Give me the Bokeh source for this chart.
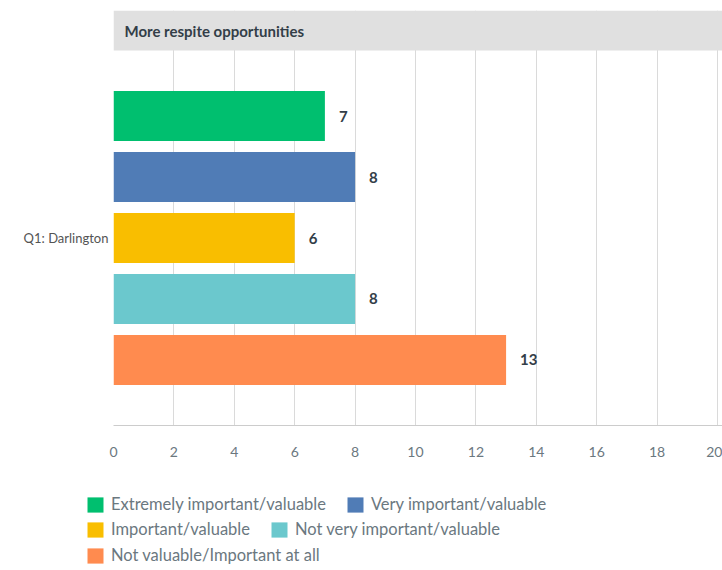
from bokeh.plotting import figure
from bokeh.models import (Range1d, FixedTicker, Label, LabelSet,
                          ColumnDataSource, Legend, LegendItem)
from bokeh.layouts import column
from bokeh.core.properties import value
from bokeh.embed import file_html
from bokeh.resources import INLINE

# ---- data ----
title_text = "More respite opportunities"
question = "Q1: Darlington"
categories = ["Extremely important/valuable", "Very important/valuable",
              "Important/valuable", "Not very important/valuable",
              "Not valuable/Important at all"]
values = [7, 8, 6, 8, 13]
colors = ["#00bf6f", "#507cb6", "#f9be00", "#6bc8cd", "#ff8b4f"]
x_ticks = [0, 2, 4, 6, 8, 10, 12, 14, 16, 18, 20]

FONT = "Lato"

# layout positions (bar slots, top to bottom)
ypos = [5 - i for i in range(len(values))]
XMAX = 20.166
YMIN, YMAX = -0.074, 6.730
HEADER_BOTTOM = 6.074

p = figure(width=722, height=470, output_backend="svg", toolbar_location=None,
           x_range=Range1d(0, XMAX), y_range=Range1d(YMIN, YMAX),
           min_border_left=113, min_border_right=0, min_border_top=10,
           min_border_bottom=45)
p.frame_align = False
p.outline_line_color = None
p.background_fill_color = "white"
p.border_fill_color = "white"

# grid
p.xgrid.ticker = FixedTicker(ticks=x_ticks)
p.xgrid.grid_line_color = "#dadada"
p.ygrid.grid_line_color = None

# header band
p.quad(left=0, right=XMAX, bottom=HEADER_BOTTOM, top=YMAX, fill_color="#e0e0e0",
       line_color=None)
p.add_layout(Label(x=0, y=(HEADER_BOTTOM + YMAX) / 2, x_offset=11, text=title_text,
                   text_font=FONT, text_font_style="bold", text_font_size="15px",
                   text_color="#333e48", text_baseline="middle"))

# bars
for y, v, c in zip(ypos, values, colors):
    p.hbar(y=[y], left=0, right=[v], height=0.82, fill_color=c, line_color=None)

src = ColumnDataSource(dict(y=ypos, x=values, t=[str(v) for v in values]))
p.add_layout(LabelSet(x="x", y="y", text="t", source=src, x_offset=14,
                      text_font=value(FONT), text_font_style="bold",
                      text_font_size="15px", text_color="#333e48",
                      text_baseline="middle", text_align="left"))

# axes
xa = p.xaxis[0]
xa.ticker = FixedTicker(ticks=x_ticks)
xa.axis_line_color = "#cccccc"
xa.major_tick_line_color = None
xa.minor_tick_line_color = None
xa.major_label_standoff = 15
xa.major_label_text_font = FONT
xa.major_label_text_font_size = "14px"
xa.major_label_text_color = "#6b787f"

ya = p.yaxis[0]
ya.ticker = FixedTicker(ticks=[3])
ya.major_label_overrides = {3: question}
ya.axis_line_color = None
ya.major_tick_line_color = None
ya.minor_tick_line_color = None
ya.major_tick_out = 0
ya.major_tick_in = 0
ya.major_label_standoff = 5
ya.major_label_text_font = FONT
ya.major_label_text_font_size = "13px"
ya.major_label_text_color = "#545454"

# legend figure (no axes at all)
lgf = figure(width=722, height=100, output_backend="svg", toolbar_location=None,
             x_range=Range1d(0, 1), y_range=Range1d(0, 1),
             x_axis_type=None, y_axis_type=None,
             min_border_left=0, min_border_right=0, min_border_top=0,
             min_border_bottom=0)
lgf.frame_align = False
lgf.grid.visible = False
lgf.outline_line_color = None
lgf.border_fill_color = "white"
lgf.background_fill_color = "white"

# legend swatches: one off-screen bar per category
dummies = [lgf.hbar(y=[-10], left=[-10], right=[-9], height=1, fill_color=c,
                    line_color=None)
           for c in colors]

rows = [[0, 1], [2, 3], [4]]
row_y = [56, 31, 5]
for idxs, vy in zip(rows, row_y):
    items = [LegendItem(label=categories[i], renderers=[dummies[i]]) for i in idxs]
    lg = Legend(items=items, location=(85, vy), orientation="horizontal",
                glyph_width=20, glyph_height=19, label_height=19, label_standoff=6,
                spacing=19, padding=0, margin=0, border_line_color=None,
                background_fill_alpha=0, label_text_font=FONT,
                label_text_font_size="16.5px", label_text_color="#6b787f")
    lgf.add_layout(lg, "center")

layout = column(p, lgf, spacing=0)
open("out.html", "w").write(file_html(layout, INLINE))
